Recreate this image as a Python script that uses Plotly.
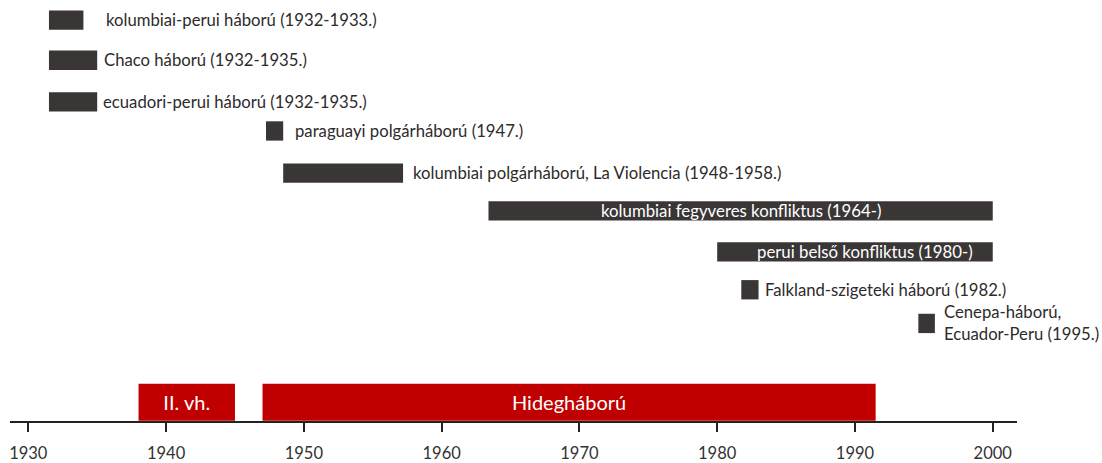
import plotly.graph_objects as go

# ---- data ----
conflicts = [
    "kolumbiai-perui háború (1932-1933.)",
    "Chaco háború (1932-1935.)",
    "ecuadori-perui háború (1932-1935.)",
    "paraguayi polgárháború (1947.)",
    "kolumbiai polgárháború, La Violencia (1948-1958.)",
    "kolumbiai fegyveres konfliktus (1964-)",
    "perui belső konfliktus (1980-)",
    "Falkland-szigeteki háború (1982.)",
    "Cenepa-háború,<br>Ecuador-Peru (1995.)",
]
conflict_start = [1931.5, 1931.5, 1931.5, 1947.25, 1948.5, 1963.4, 1980.0, 1981.75, 1994.6]
conflict_end = [1934.0, 1935.0, 1935.0, 1948.5, 1957.2, 2000.0, 2000.0, 1983.0, 1995.8]
label_inside = [False, False, False, False, False, True, True, False, False]

eras = ["II. vh.", "Hidegháború"]
era_start = [1938.0, 1947.0]
era_end = [1945.0, 1991.5]

tick_years = [1930, 1940, 1950, 1960, 1970, 1980, 1990, 2000]

# ---- layout helpers (pixel positions, not data) ----
lane_y = [20.3, 60.8, 102.8, 132.2, 174.8, 212.8, 254.2, 292.5, 326.5]
label_gap = [20.5, 5, 3.5, 10, 8, 0, 10.5, 4, 7]  # px offsets of labels
era_y = 406.0
BAR_H = 19.5
ERA_H = 37.4
FONT = "Lato"
DARK = "#3a3636"
RED = "#c00000"
TXT = "#2e2b2b"

fig = go.Figure()

fig.add_trace(go.Bar(
    orientation="h",
    y=lane_y,
    base=conflict_start,
    x=[e - s for s, e in zip(conflict_start, conflict_end)],
    width=BAR_H,
    marker=dict(color=DARK, line=dict(width=0)),
    hoverinfo="skip",
    showlegend=False,
))

fig.add_trace(go.Bar(
    orientation="h",
    y=[era_y] * len(eras),
    base=era_start,
    x=[e - s for s, e in zip(era_start, era_end)],
    width=ERA_H,
    marker=dict(color=RED, line=dict(width=0)),
    text=eras,
    textposition="inside",
    insidetextanchor="middle",
    textangle=0,
    textfont=dict(family=FONT, size=20, color="white"),
    hoverinfo="skip",
    showlegend=False,
))

annotations = []
for name, s, e, inside, y, gap in zip(conflicts, conflict_start, conflict_end,
                                      label_inside, lane_y, label_gap):
    if inside:
        annotations.append(dict(
            x=(s + e) / 2, y=y, xref="x", yref="y", text=name, showarrow=False,
            xanchor="center", yanchor="middle", xshift=gap,
            font=dict(family=FONT, size=16.8, color="white"),
        ))
    else:
        annotations.append(dict(
            x=e, y=y, xref="x", yref="y", text=name, showarrow=False,
            xanchor="left", yanchor="middle", xshift=gap, align="left",
            font=dict(family=FONT, size=16.7, color=TXT),
        ))

fig.update_layout(
    width=1102, height=463,
    margin=dict(l=10, r=85, t=0, b=38),
    paper_bgcolor="white", plot_bgcolor="white",
    barmode="overlay",
    annotations=annotations,
    xaxis=dict(
        range=[1928.672, 2001.76],
        tickvals=tick_years,
        ticktext=[str(t) for t in tick_years],
        ticks="outside", ticklen=9, tickwidth=2, tickcolor="#222222",
        showline=True, linewidth=2, linecolor="#222222",
        showgrid=False, zeroline=False,
        tickfont=dict(family=FONT, size=16.5, color="#333333"),
        ticklabelstandoff=7,
        fixedrange=True,
    ),
    yaxis=dict(
        range=[425, 0],
        visible=False, showgrid=False, zeroline=False, fixedrange=True,
    ),
)

fig.write_html(
    "out.html",
    config={"displayModeBar": False},
    post_script="document.body.style.margin='0';document.body.style.overflow='hidden';",
)
